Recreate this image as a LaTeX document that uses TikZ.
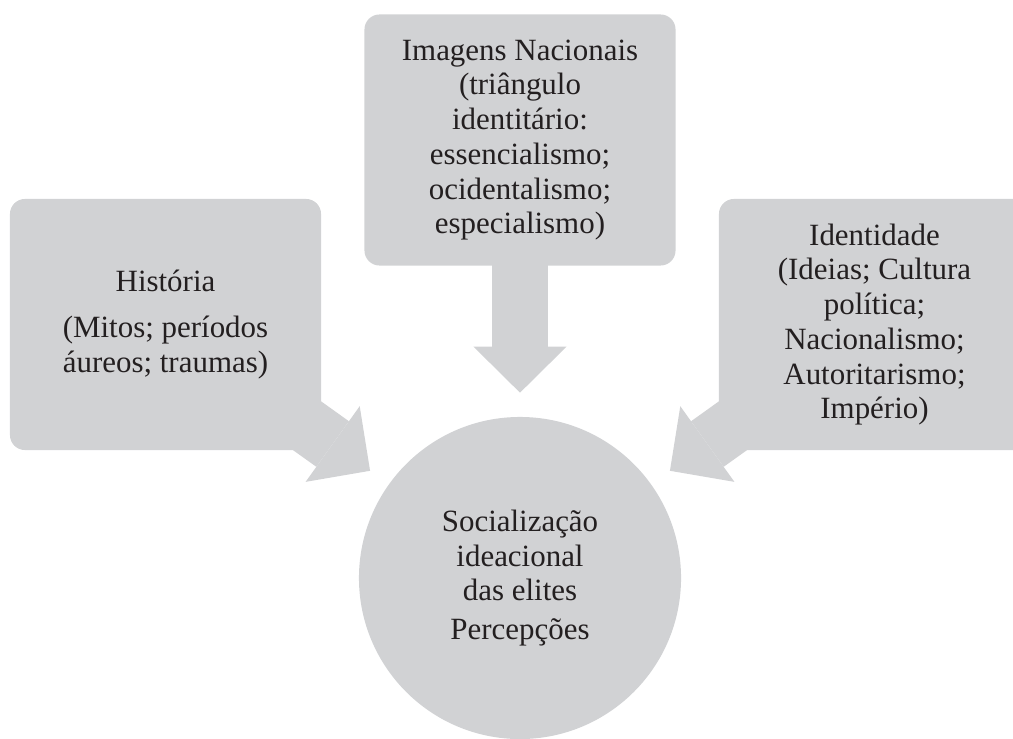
\documentclass[tikz,border=0pt]{standalone}
\usepackage{fontspec}
\setmainfont{Liberation Serif}
\usepackage{tikz}
\usetikzlibrary{arrows.meta, positioning, backgrounds}

\definecolor{boxgray}{RGB}{209,210,212}
\definecolor{inkdark}{RGB}{35,31,32}

\begin{document}
\begin{tikzpicture}[
  x=0.025cm, y=-0.025cm,
  every node/.style={text=inkdark},
  topicbox/.style={rectangle, rounded corners=0.375cm, fill=boxgray, minimum width=7.775cm, minimum height=6.275cm, align=center, font=\fontsize{22}{24.7}\selectfont},
  corenode/.style={circle, fill=boxgray, minimum size=8.05cm, inner sep=0pt, align=center, font=\fontsize{22}{24.7}\selectfont},
  flow/.style={draw=boxgray, line width=1.4cm, -{Triangle[width=2.325cm, length=1.15cm, line width=0pt]}}
]
\clip (0,0) rectangle (1013,738);

\node[topicbox] (Hist) at (165.5,324.5) {História\\[0.3cm](Mitos; períodos\\áureos; traumas)};
\node[topicbox] (Imag) at (520,140) {Imagens Nacionais\\(triângulo\\identitário:\\essencialismo;\\ocidentalismo;\\especialismo)};
\node[topicbox] (Ident) at (874.5,324.5) {Identidade\\(Ideias; Cultura\\política;\\Nacionalismo;\\Autoritarismo;\\Império)};
\node[corenode] (Soc) at (520,578) {Socialização\\ideacional\\das elites\\[0.1cm]Percepções};

% block arrows behind the shapes
\begin{scope}[on background layer]
\draw[flow, shorten >=0.575cm] (Hist.center) -- (Soc);
\draw[flow, shorten >=0.6cm] (Imag.center) -- (Soc);
\draw[flow, shorten >=0.575cm] (Ident.center) -- (Soc);
\end{scope}
\end{tikzpicture}
\end{document}
